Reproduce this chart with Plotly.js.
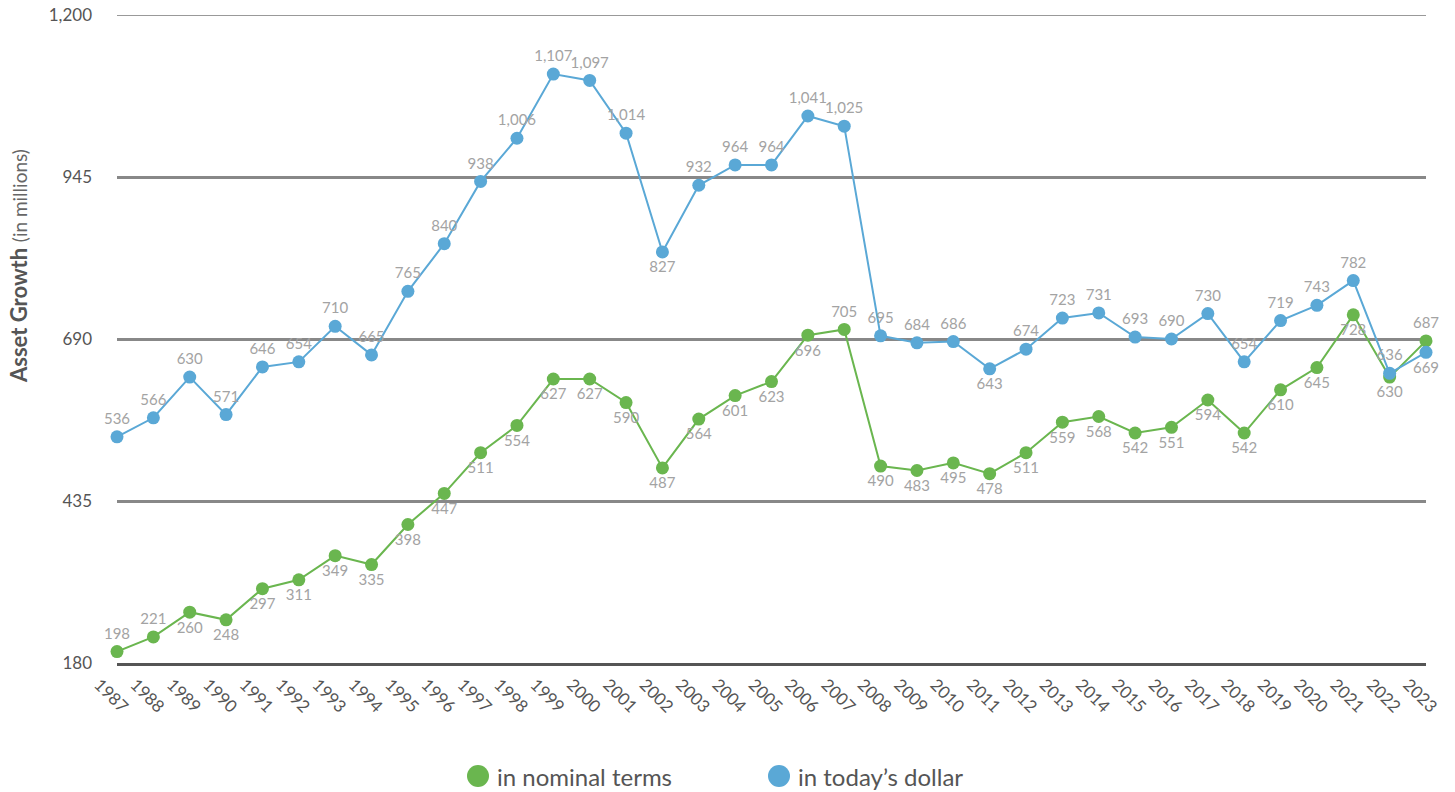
<!DOCTYPE html>
<html>
<head>
<meta charset="utf-8">
<script src="https://cdn.plot.ly/plotly-3.0.1.min.js"></script>
<style>
html,body{margin:0;padding:0;background:#fff;}
#chart{width:1455px;height:792px;}
</style>
</head>
<body>
<div id="chart"></div>
<script>
const years = [1987,1988,1989,1990,1991,1992,1993,1994,1995,1996,1997,1998,1999,2000,2001,2002,2003,2004,2005,2006,2007,2008,2009,2010,2011,2012,2013,2014,2015,2016,2017,2018,2019,2020,2021,2022,2023];
const nominalTerms = [198,221,260,248,297,311,349,335,398,447,511,554,627,627,590,487,564,601,623,696,705,490,483,495,478,511,559,568,542,551,594,542,610,645,728,630,687];
const todaysDollar = [536,566,630,571,646,654,710,665,765,840,938,1006,1107,1097,1014,827,932,964,964,1041,1025,695,684,686,643,674,723,731,693,690,730,654,719,743,782,636,669];
const yTicks = [180,435,690,945,1200];
const seriesNames = ['in nominal terms', 'in today\u2019s dollar'];

const GREEN = '#6ab64f';
const BLUE = '#5aa8d6';
const FONT = 'Lato, "Open Sans", Roboto, sans-serif';

// label placement (style only)
const greenTop = new Set([1987,1988,2007,2023]);
const blueBottom = new Set([2002,2011,2023]);
const greenPos = years.map(y => greenTop.has(y) ? 'top center' : 'bottom center');
const bluePos = years.map(y => blueBottom.has(y) ? 'bottom center' : 'top center');

const traces = [
  {
    x: years, y: nominalTerms, name: seriesNames[0], type: 'scatter', mode: 'lines+markers+text',
    line: {color: GREEN, width: 2}, marker: {color: GREEN, size: 13},
    text: nominalTerms.map(v => v.toLocaleString('en-US')), textposition: greenPos,
    textfont: {family: FONT, size: 15, color: '#a3a3a3'},
    cliponaxis: false, showlegend: false, hoverinfo: 'x+y'
  },
  {
    x: years, y: todaysDollar, name: seriesNames[1], type: 'scatter', mode: 'lines+markers+text',
    line: {color: BLUE, width: 2}, marker: {color: BLUE, size: 13},
    text: todaysDollar.map(v => v.toLocaleString('en-US')), textposition: bluePos,
    textfont: {family: FONT, size: 15, color: '#a3a3a3'},
    cliponaxis: false, showlegend: false, hoverinfo: 'x+y'
  }
];

const W = 1455, H = 792;
const mL = 117, mR = 29, mT = 15, mB = 129;
const pw = W - mL - mR, ph = H - mT - mB;
const px = x => (x - mL) / pw;
const py = y => (H - mB - y) / ph;

const legendItems = [
  {name: seriesNames[0], color: GREEN, cx: 478},
  {name: seriesNames[1], color: BLUE, cx: 779}
];

const shapes = legendItems.map(it => ({
  type: 'circle', xref: 'paper', yref: 'paper', xsizemode: 'pixel', ysizemode: 'pixel',
  xanchor: px(it.cx), yanchor: py(776), x0: -11, x1: 11, y0: -11, y1: 11,
  fillcolor: it.color, line: {width: 0}
}));

// top gridline (at the range edge, where Plotly does not draw a grid line)
shapes.push({
  type: 'line', xref: 'paper', yref: 'y', x0: 0, x1: 1,
  y0: yTicks[yTicks.length - 1], y1: yTicks[yTicks.length - 1],
  line: {color: '#999', width: 2}, layer: 'below'
});

const annotations = legendItems.map(it => ({
  xref: 'paper', yref: 'paper', x: px(it.cx + 17), y: py(776), xanchor: 'left', yanchor: 'middle',
  text: it.name, showarrow: false, font: {family: FONT, size: 24, color: '#555'}
}));

annotations.push({
  xref: 'paper', yref: 'paper', x: px(18), y: py(266), xanchor: 'center', yanchor: 'middle',
  textangle: -90, showarrow: false,
  text: '<b>Asset Growth</b> <span style="font-size:19px;color:#666">(in millions)</span>',
  font: {family: FONT, size: 22, color: '#555'}
});

const layout = {
  width: W, height: H,
  margin: {l: mL, r: mR, t: mT, b: mB, pad: 0},
  paper_bgcolor: '#fff', plot_bgcolor: '#fff',
  showlegend: false,
  font: {family: FONT, color: '#555'},
  xaxis: {
    type: 'linear', range: [1987, 2023], tickmode: 'array', tickvals: years,
    ticktext: years.map(String), tickangle: 45, showgrid: false, zeroline: false,
    showline: true, linecolor: '#555', linewidth: 3, ticks: '',
    tickfont: {family: FONT, size: 17, color: '#555'}, ticklabelshift: -18, ticklabelstandoff: 2
  },
  yaxis: {
    range: [180, 1200], tickmode: 'array', tickvals: yTicks,
    ticktext: yTicks.map(v => v.toLocaleString('en-US')),
    showgrid: true, gridcolor: '#888', gridwidth: 3, zeroline: false, showline: false, ticks: '',
    tickfont: {family: FONT, size: 17, color: '#555'}, ticklabelstandoff: 24
  },
  shapes: shapes,
  annotations: annotations
};

Plotly.newPlot('chart', traces, layout, {displayModeBar: false, staticPlot: true});
</script>
</body>
</html>
